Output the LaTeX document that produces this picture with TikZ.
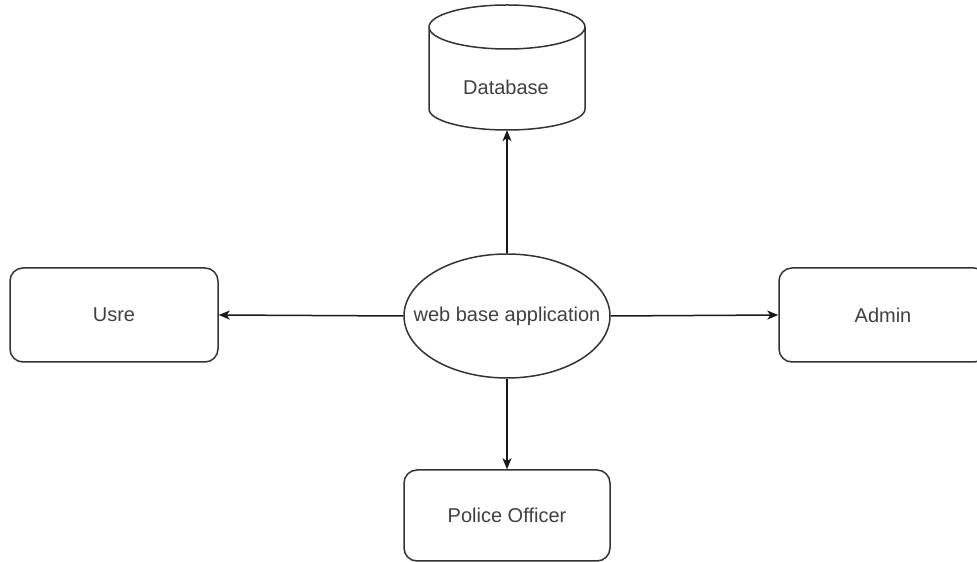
\documentclass[tikz,border=0pt]{standalone}
\usepackage{fontspec}
\setmainfont{Liberation Sans}
\usetikzlibrary{arrows.meta,shapes.geometric}
\begin{document}
\begin{tikzpicture}[x=1pt,y=1pt,
  lbl/.style={font=\fontsize{20}{24}\selectfont, text=black!75},
  box/.style={draw=black!80, line width=1.5pt, rounded corners=13pt, minimum width=208pt, minimum height=94pt, inner sep=0pt, lbl},
  conn/.style={draw=black!90, line width=1.5pt, -{Stealth[length=11pt,width=9pt,inset=3pt]}}]
\useasboundingbox (0,0) rectangle (977,562);
% Database (cylinder)
\node[minimum width=156pt, minimum height=125pt, inner sep=0pt] (db) at (507,494.5) {};
\node[lbl] (dbt) at (506,475) {Database};
\draw[draw=black!80, line width=1.5pt]
  (429,535) -- (429,453) arc[start angle=180, end angle=360, x radius=78, y radius=21] -- (585,535)
  (507,535) ellipse[x radius=78, y radius=22];
% central ellipse
\node[draw=black!80, line width=1.5pt, ellipse, minimum width=206pt, minimum height=124pt, inner sep=0pt] (app) at (507,246) {};
\node[lbl] (apptext) at (app.center) {web base application};
% boxes
\node[box] (usre) at (114,247) {Usre};
\node[box] (admin) at (883,247) {Admin};
\node[box, minimum width=206pt, minimum height=91pt] (police) at (507,46.5) {Police Officer};
% connectors
\draw[conn] (app.north) -- (db.south);
\draw[conn] (app.west) -- (usre.east);
\draw[conn] (app.east) -- (admin.west);
\draw[conn] (app.south) -- (police.north);
\end{tikzpicture}
\end{document}
